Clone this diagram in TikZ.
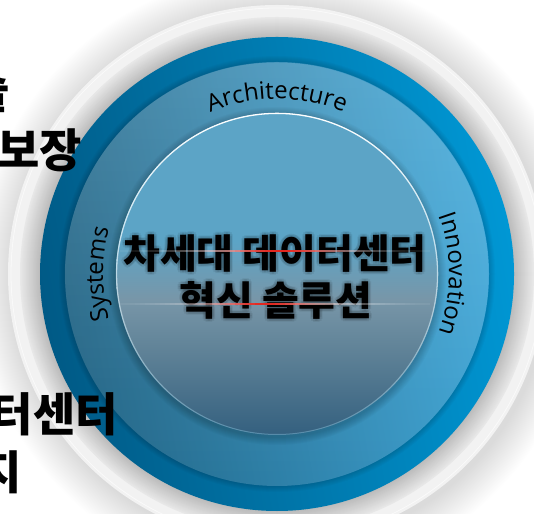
\documentclass[tikz,border=0pt]{standalone}
\usepackage{fontspec}
\setmainfont{Open Sans}
\newfontfamily\kr{Noto Sans CJK KR}
\usetikzlibrary{decorations.text,fadings}
\definecolor{blueL}{HTML}{005A86}
\definecolor{blueR}{HTML}{0097D4}
\definecolor{midL}{HTML}{226586}
\definecolor{midR}{HTML}{3FA6D7}
\definecolor{inB}{HTML}{34607F}
\definecolor{inM}{HTML}{5F8297}
\definecolor{inG}{HTML}{7896A8}
\definecolor{inT}{HTML}{5CA4C6}
\definecolor{flare}{HTML}{E3261E}
\pgfdeclareverticalshading{innershade}{100bp}{color(0bp)=(inB); color(25bp)=(inB); color(38bp)=(inM); color(46bp)=(inG); color(55bp)=(inT); color(75bp)=(inT); color(100bp)=(inT)}
\tikzfading[name=fadetop, top color=transparent!0, middle color=transparent!85, bottom color=transparent!100]
\tikzfading[name=fadetopsoft, top color=transparent!0, bottom color=transparent!100]
\tikzset{
  arclabel/.style={decorate, decoration={text along path, text align=center, text={#1}}},
  bigkr/.style={font=\kr\bfseries\fontsize{46}{46}\selectfont, inner sep=0pt, anchor=base east, text=black},
  centerkr/.style={font=\kr\bfseries\fontsize{40}{40}\selectfont, inner sep=0pt, anchor=base},
}
\begin{document}
\begin{tikzpicture}[x=1pt,y=1pt]
\path[use as bounding box, fill=white] (0,0) rectangle (534,513);
\begin{scope}[shift={(277,239)}]
  % outer soft shadow
  \foreach \i in {1,...,36} {
    \fill[black, opacity=0.005] (3,-3) circle ({269+\i});
  }
  % grey outer ring
  \foreach \r in {269,...,237} {
    \pgfmathsetmacro{\p}{\r>257 ? 5 : 9+(257-\r)*0.9}
    \fill[black!\p] (0,0) circle (\r);
  }
  \draw[white, opacity=0.6, line width=0.8pt] (0,0) circle (266);
  % blue ring
  \shade[left color=blueL, right color=blueR, shading angle=100] (0,0) circle (237);
  % shadow of middle ring
  \foreach \i in {1,...,6} {
    \fill[black, opacity=0.025] (0,0) circle ({212+\i});
  }
  % middle ring
  \shade[left color=midL, right color=midR, shading angle=100] (0,0) circle (212);
  \fill[white, opacity=0.16, path fading=fadetopsoft] (0,0) circle (212);
  % shadow of inner circle
  \foreach \i in {1,...,8} {
    \fill[black, opacity=0.025] (0,-2) circle ({161+\i});
  }
  % inner circle
  \shade[shading=innershade] (0,0) circle (161);
  \draw[cyan!40!white, opacity=0.35, line width=1pt] (0,0) circle (160.5);
  \draw[white, line width=1.3pt, path fading=fadetop] (0,0) circle (160.5);
  % arc labels
  \path[arclabel={|\fontsize{24}{24}\selectfont|Architecture}]
    (125:175) arc[start angle=125, end angle=55, radius=175];
  \path[arclabel={|\fontsize{24}{24}\selectfont|Systems}]
    (215:174) arc[start angle=215, end angle=145, radius=174];
  \path[arclabel={|\fontsize{24}{24}\selectfont|Innovation}]
    (35:172) arc[start angle=35, end angle=-35, radius=172];
\end{scope}
% centre title with blurred shadow
\foreach \dx/\dy in {-2/-2,-2/2,2/-2,2/2,0/-3,0/3,-3/0,3/0} {
  \node[centerkr, text=black, opacity=0.07] at ({275+\dx},{244+\dy}) {차세대 데이터센터};
  \node[centerkr, text=black, opacity=0.07] at ({276+\dx},{197+\dy}) {혁신 솔루션};
}
\node[centerkr, text=black] (title1) at (275,244) {차세대 데이터센터};
\node[centerkr, text=black] (title2) at (276,197) {혁신 솔루션};
% flare lines (bell-shaped opacity)
\foreach \k in {0,...,61} {
  \pgfmathsetmacro{\xa}{120+5*\k}
  \pgfmathsetmacro{\ow}{0.75*exp(-((\xa+2.5-275)/95)^2)}
  \pgfmathsetmacro{\orl}{exp(-((\xa+2.5-280)/50)^2)}
  \pgfmathsetmacro{\orm}{exp(-((\xa+2.5-265)/44)^2)}
  \fill[white, opacity=\ow] (\xa,261.2) rectangle ({\xa+5},262.8);
  \fill[flare, opacity=\orl] (\xa,260.8) rectangle ({\xa+5},263.2);
  \fill[white, opacity=\ow] (\xa,208.2) rectangle ({\xa+5},209.8);
  \fill[flare, opacity=\orm] (\xa,207.8) rectangle ({\xa+5},210.2);
}
% clipped side texts
\node[bigkr] (sideA) at (10,404) {술};
\node[bigkr] (sideB) at (82,345) {보장};
\node[bigkr] (sideC) at (118,81) {터센터};
\node[bigkr] (sideD) at (22,24) {지};
\end{tikzpicture}
\end{document}
